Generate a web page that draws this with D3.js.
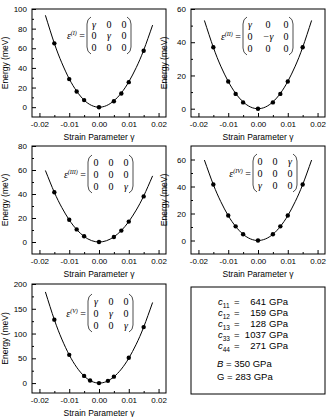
<!DOCTYPE html>
<html>
<head>
<meta charset="utf-8">
<script src="https://cdn.jsdelivr.net/npm/d3@7"></script>
<style>
  body { margin: 0; background: #fff; }
  svg { display: block; }
  .tick text { font-family: "Liberation Sans", Arial, sans-serif; font-size: 8px; fill: #000; }
  .tick line { stroke: #000; }
</style>
</head>
<body>
<svg id="chart" width="336" height="417"></svg>
<script>
// measured strain points
const strain = [-0.015, -0.01, -0.0075, -0.005, 0, 0.005, 0.0075, 0.01, 0.015];
const strainV = [-0.015, -0.01, -0.005, -0.003, 0, 0.003, 0.005, 0.01, 0.015];

const energyI = [65, 28.6, 16, 7.2, 0, 6, 14, 25.5, 57.5];
const energyII = [37, 16.4, 8.9, 3.8, 0, 3.8, 8.9, 16.4, 37];
const energyIII = [41.5, 18.5, 10.5, 4.8, 0, 4.2, 9.5, 17, 38];
const energyIV = [41.5, 18.5, 10.5, 4.6, 0, 4.6, 10.5, 18.5, 41.5];
const energyV = [128, 57, 14.5, 5.2, 0, 4.5, 13, 51, 113];

// fitted curves
const fitStrain = [-0.018, -0.015, -0.0125, -0.01, -0.0075, -0.005, -0.0025, 0,
    0.0025, 0.005, 0.0075, 0.01, 0.0125, 0.015, 0.018];
const fitI = [93.6, 65, 45.2, 28.9, 16.3, 7.2, 1.8, 0, 1.6, 6.5, 14.5, 25.8, 40.3, 58, 83.6];
const fitII = [53.1, 36.9, 25.6, 16.4, 9.2, 4.1, 1.0, 0, 1.0, 4.1, 9.2, 16.4, 25.6, 36.9, 53.1];
const fitIII = [59.6, 41.4, 28.8, 18.4, 10.4, 4.6, 1.15, 0, 1.06, 4.25, 9.6, 17, 26.6, 38.3, 55.1];
const fitIV = [59.6, 41.4, 28.8, 18.4, 10.4, 4.6, 1.15, 0, 1.15, 4.6, 10.4, 18.4, 28.8, 41.4, 59.6];
const fitV = [184, 128, 88.9, 56.9, 32, 14.2, 3.6, 0, 3.1, 12.6, 28.2, 50.2, 78.4, 113, 162.7];

const xTicks = [-0.02, -0.01, 0, 0.01, 0.02];
const xMinor = [-0.015, -0.005, 0.005, 0.015];

const matrixI = [["γ", "0", "0"], ["0", "γ", "0"], ["0", "0", "0"]];
const matrixII = [["γ", "0", "0"], ["0", "−γ", "0"], ["0", "0", "0"]];
const matrixIII = [["0", "0", "0"], ["0", "0", "0"], ["0", "0", "γ"]];
const matrixIV = [["0", "0", "γ"], ["0", "0", "0"], ["γ", "0", "0"]];
const matrixV = [["γ", "0", "0"], ["0", "γ", "0"], ["0", "0", "γ"]];

const constNames = ["11", "12", "13", "33", "44"];
const constValues = [641, 159, 128, 1037, 271];
const moduli = [["B", 350], ["G", 283]];

const panels = [
    {left: 32, top: 9, h: 108, ydom: [-10, 100], yt: d3.range(0, 101, 20), ym: d3.range(10, 100, 20),
        sx: strain, sy: energyI, fy: fitI, label: "I", m: matrixI, bx: 55, cols: [62, 77, 92], rows: [15, 26, 38]},
    {left: 191, top: 9, h: 108, ydom: [-5, 60], yt: d3.range(0, 61, 20), ym: d3.range(10, 60, 20),
        sx: strain, sy: energyII, fy: fitII, label: "II", m: matrixII, bx: 52, cols: [59, 77, 95], rows: [15, 27, 39]},
    {left: 32, top: 146, h: 108, ydom: [-10, 80], yt: d3.range(0, 81, 20), ym: d3.range(10, 80, 20),
        sx: strain, sy: energyIII, fy: fitIII, label: "III", m: matrixIII, bx: 56, cols: [64, 79, 94], rows: [16, 28, 40]},
    {left: 191, top: 146, h: 108, ydom: [-10, 70], yt: d3.range(0, 61, 20), ym: d3.range(10, 70, 20),
        sx: strain, sy: energyIV, fy: fitIV, label: "IV", m: matrixIV, bx: 62, cols: [69, 84, 99], rows: [15, 27, 39]},
    {left: 32, top: 284, h: 109, ydom: [-20, 200], yt: d3.range(0, 201, 50), ym: d3.range(25, 200, 50),
        sx: strainV, sy: energyV, fy: fitV, label: "V", m: matrixV, bx: 56, cols: [64, 79, 94], rows: [17, 29, 41]}
];

const W = 134;
const svg = d3.select("#chart");
const sans = "'Liberation Sans', Arial, sans-serif";
const serif = "'Liberation Serif', 'Times New Roman', serif";

panels.forEach(p => {
    const g = svg.append("g").attr("transform", `translate(${p.left},${p.top})`);
    const x = d3.scaleLinear().domain([-0.0225, 0.0225]).range([0, W]);
    const y = d3.scaleLinear().domain(p.ydom).range([p.h, 0]);

    g.append("g").attr("transform", `translate(0,${p.h})`)
        .call(d3.axisBottom(x).tickValues(xTicks).tickSize(-4).tickPadding(4)
            .tickFormat(d => d3.format(".2f")(d).replace("−", "-")))
        .call(a => a.select(".domain").remove());
    g.append("g").attr("transform", `translate(0,${p.h})`)
        .call(d3.axisBottom(x).tickValues(xMinor).tickSize(-2).tickFormat(""))
        .call(a => a.select(".domain").remove());
    g.append("g")
        .call(d3.axisLeft(y).tickValues(p.yt).tickSize(-4).tickPadding(5))
        .call(a => a.select(".domain").remove());
    g.append("g")
        .call(d3.axisLeft(y).tickValues(p.ym).tickSize(-2).tickFormat(""))
        .call(a => a.select(".domain").remove());

    g.append("rect").attr("width", W).attr("height", p.h)
        .attr("fill", "none").attr("stroke", "#000").attr("stroke-width", 1);

    const line = d3.line().x(d => x(d[0])).y(d => y(d[1])).curve(d3.curveNatural);
    g.append("path").datum(d3.zip(fitStrain, p.fy))
        .attr("d", line).attr("fill", "none").attr("stroke", "#000").attr("stroke-width", 1);

    g.selectAll("circle").data(d3.zip(p.sx, p.sy)).join("circle")
        .attr("cx", d => x(d[0])).attr("cy", d => y(d[1])).attr("r", 2.2).attr("fill", "#000");

    // axis titles
    g.append("text").attr("transform", `translate(${-24},${p.h / 2}) rotate(-90)`)
        .attr("text-anchor", "middle").attr("font-family", sans).attr("font-size", 8.5)
        .text("Energy (meV)");
    g.append("text").attr("x", W / 2).attr("y", p.h + 23)
        .attr("text-anchor", "middle").attr("font-family", sans).attr("font-size", 8.5)
        .text("Strain Parameter γ");

    // strain tensor inset
    const r0 = p.rows[0] - 7, r2 = p.rows[2] + 7, bl = p.bx, br = p.cols[2] + 7;
    const lbl = g.append("text").attr("x", bl - 2).attr("y", p.rows[1] + 3.5)
        .attr("text-anchor", "end").attr("font-family", serif).attr("font-size", 10);
    lbl.append("tspan").attr("font-style", "italic").text("ε");
    lbl.append("tspan").attr("font-style", "italic").attr("font-size", 6).attr("dy", -4).text(`(${p.label})`);
    lbl.append("tspan").attr("dy", 4).text(" =");
    g.append("path")
        .attr("d", `M${bl + 4},${r0} Q${bl},${r0 + 2} ${bl},${r0 + 7} L${bl},${r2 - 7} Q${bl},${r2 - 2} ${bl + 4},${r2}`)
        .attr("fill", "none").attr("stroke", "#000").attr("stroke-width", 0.7);
    g.append("path")
        .attr("d", `M${br - 4},${r0} Q${br},${r0 + 2} ${br},${r0 + 7} L${br},${r2 - 7} Q${br},${r2 - 2} ${br - 4},${r2}`)
        .attr("fill", "none").attr("stroke", "#000").attr("stroke-width", 0.7);
    p.m.forEach((row, i) => row.forEach((cell, j) => {
        g.append("text").attr("x", p.cols[j]).attr("y", p.rows[i] + 3.5)
            .attr("text-anchor", "middle").attr("font-family", serif).attr("font-size", 10)
            .attr("font-style", cell.includes("γ") ? "italic" : "normal")
            .text(cell);
    }));
});

// elastic constants box
const box = svg.append("g").attr("transform", "translate(191,287)");
box.append("rect").attr("width", 134).attr("height", 107)
    .attr("fill", "none").attr("stroke", "#000").attr("stroke-width", 1);
constNames.forEach((n, i) => {
    const yy = 18 + i * 11;
    const t = box.append("text").attr("x", 27).attr("y", yy)
        .attr("font-family", sans).attr("font-size", 9.5);
    t.append("tspan").attr("font-style", "italic").text("c");
    t.append("tspan").attr("font-size", 6.5).attr("dy", 2.5).text(n);
    box.append("text").attr("x", 43).attr("y", yy)
        .attr("font-family", sans).attr("font-size", 9.5).text("=");
    box.append("text").attr("x", 75).attr("y", yy).attr("text-anchor", "end")
        .attr("font-family", sans).attr("font-size", 9.5).text(constValues[i]);
    box.append("text").attr("x", 78).attr("y", yy)
        .attr("font-family", sans).attr("font-size", 9.5).text("GPa");
});
moduli.forEach((m, i) => {
    const t = box.append("text").attr("x", 26).attr("y", 80 + i * 13)
        .attr("font-family", sans).attr("font-size", 9.5);
    t.append("tspan").attr("font-style", m[0] === "B" ? "italic" : "normal").text(m[0]);
    t.append("tspan").text(` = ${m[1]} GPa`);
});
</script>
</body>
</html>
